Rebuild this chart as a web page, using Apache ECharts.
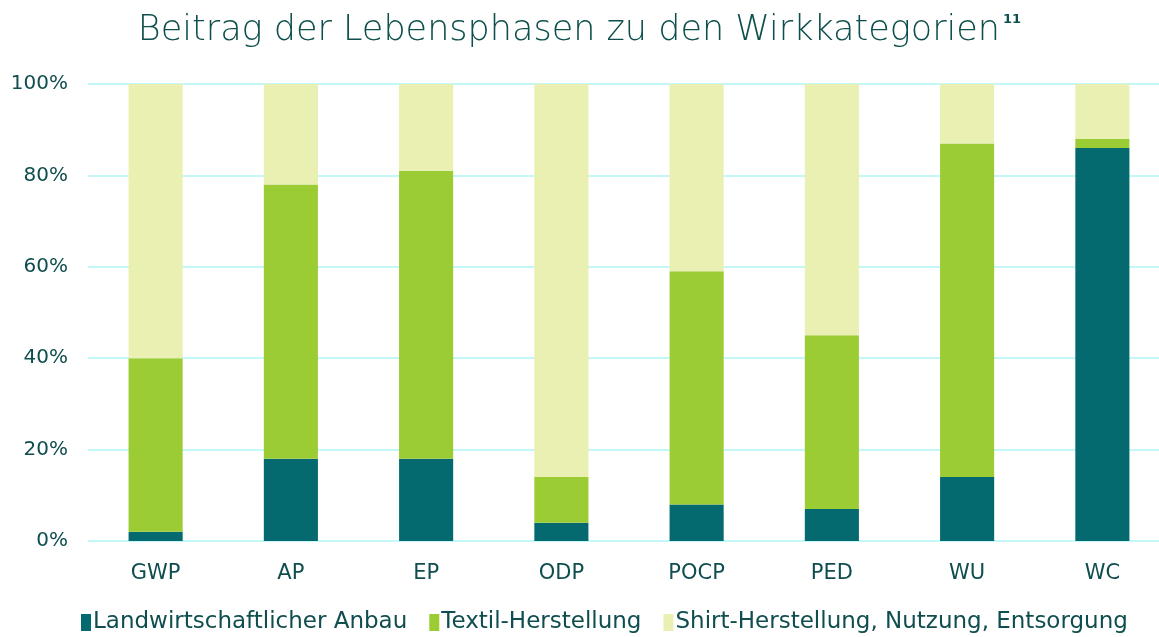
<!DOCTYPE html>
<html>
<head>
<meta charset="utf-8">
<script src="https://cdn.jsdelivr.net/npm/echarts@6/dist/echarts.min.js"></script>
<style>
  html, body { margin: 0; padding: 0; background: #fff; }
  #chart { width: 1159px; height: 637px; }
</style>
</head>
<body>
<div id="chart"></div>
<script>
// Wirkkategorien
var categories = ['GWP', 'AP', 'EP', 'ODP', 'POCP', 'PED', 'WU', 'WC'];
var seriesNames = ['Landwirtschaftlicher Anbau', 'Textil-Herstellung', 'Shirt-Herstellung, Nutzung, Entsorgung'];
// Anteile in %
var anbau   = [2, 18, 18, 4, 8, 7, 14, 86];
var textil  = [38, 60, 63, 10, 51, 38, 73, 2];
var shirt   = [60, 22, 19, 86, 41, 55, 13, 12];
var colors = ['#056a70', '#9bcc33', '#e9f0b2'];

var font = '"DejaVu Sans", Lato, sans-serif';
var textColor = '#0f4d4f';

var myChart = echarts.init(document.getElementById('chart'));
var option = {
  backgroundColor: '#fff',
  animation: false,
  title: {
    text: '{main|Beitrag der Lebensphasen zu den Wirkkategorien}{sup|11}',
    left: 'center',
    top: 8,
    textStyle: {
      rich: {
        main: { fontFamily: '"DejaVu Sans ExtraLight", "DejaVu Sans", sans-serif', fontSize: 35, fontWeight: 200, color: '#0d4f4c' },
        sup: { fontFamily: font, fontSize: 13, color: '#0d4f4c', verticalAlign: 'top', padding: [0, 0, 10, 3] }
      }
    }
  },
  legend: {
    bottom: -2,
    left: 76,
    itemWidth: 10,
    itemHeight: 17,
    itemGap: 22,
    icon: 'rect',
    textStyle: { fontFamily: font, fontSize: 23, color: textColor, padding: [0, 0, 0, -3] },
    data: seriesNames
  },
  grid: { left: 88, width: 1082, top: 84, bottom: 96, outerBoundsMode: 'none' },
  xAxis: {
    type: 'category',
    data: categories,
    axisLine: { show: false },
    axisTick: { show: false },
    axisLabel: { fontFamily: font, fontSize: 21, color: textColor, margin: 22 }
  },
  yAxis: {
    type: 'value',
    min: 0,
    max: 100,
    interval: 20,
    axisLabel: { formatter: '{value}%', fontFamily: font, fontSize: 20, color: textColor, margin: 20 },
    splitLine: { lineStyle: { color: '#c4f7f8', width: 2 } },
    axisLine: { show: false },
    axisTick: { show: false }
  },
  series: [
    { name: seriesNames[0], type: 'bar', stack: 'a', data: anbau, barWidth: '40%', itemStyle: { color: colors[0] } },
    { name: seriesNames[1], type: 'bar', stack: 'a', data: textil, barWidth: '40%', itemStyle: { color: colors[1] } },
    { name: seriesNames[2], type: 'bar', stack: 'a', data: shirt, barWidth: '40%', itemStyle: { color: colors[2] } }
  ]
};
myChart.setOption(option);
</script>
</body>
</html>
